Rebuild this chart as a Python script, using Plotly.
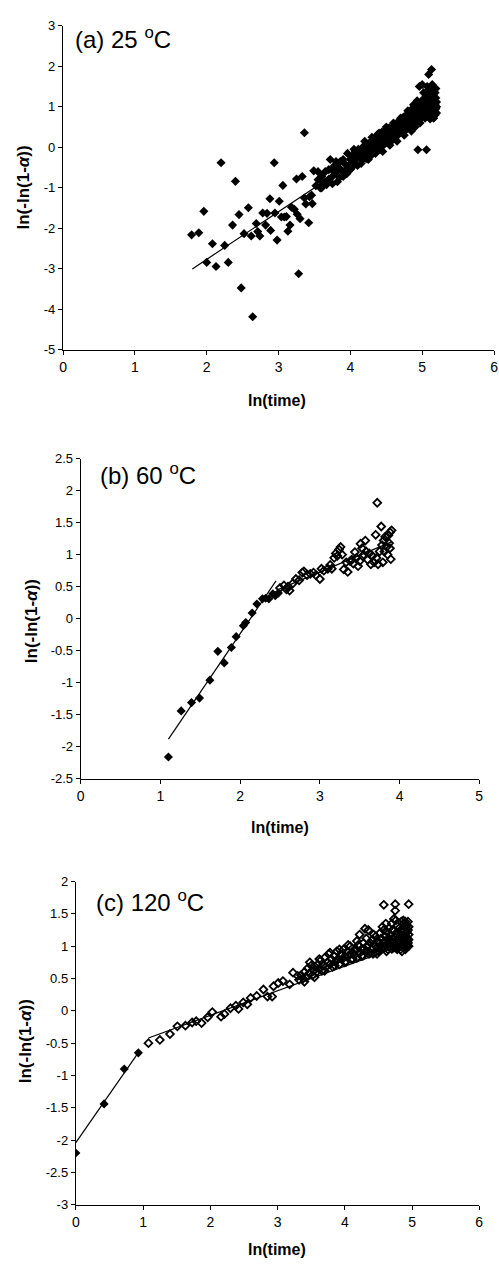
import plotly.graph_objects as go

W, H = 499, 1272

# ---------------- Panel (a) 25 °C ----------------
a_x = [1.79, 1.89, 1.96, 2.00, 2.08, 2.13, 2.20, 2.25, 2.30, 2.36, 2.40, 2.45, 2.48, 2.52, 2.58,
       2.62, 2.64, 2.69, 2.71, 2.74, 2.78, 2.82, 2.84, 2.88, 2.89, 2.94, 2.95, 2.98, 3.01, 3.04,
       3.06, 3.08, 3.11, 3.13, 3.16, 3.18, 3.22, 3.25, 3.26, 3.28, 3.30, 3.33, 3.36, 3.36, 3.38,
       3.42, 3.43, 3.47, 3.49, 3.46,
       3.52, 3.55, 3.58, 3.60, 3.62, 3.65, 3.67, 3.70, 3.72, 3.74,
       3.76, 3.78, 3.80, 3.82, 3.84, 3.86, 3.88, 3.90, 3.92, 3.94, 3.96, 3.98, 4.00,
       4.02, 4.03, 4.05, 4.07, 4.08, 4.10, 4.11, 4.13, 4.15, 4.16, 4.18, 4.19, 4.21, 4.22, 4.24,
       4.25, 4.27, 4.28, 4.29, 4.30,
       4.31, 4.32, 4.33, 4.34, 4.35, 4.36, 4.37, 4.38, 4.39, 4.40, 4.41, 4.42, 4.43, 4.44, 4.45,
       4.46, 4.47, 4.48, 4.49, 4.50, 4.51, 4.52, 4.53, 4.54, 4.55, 4.56, 4.57, 4.58, 4.59, 4.60,
       4.61, 4.62, 4.63, 4.64, 4.65, 4.66, 4.67, 4.68, 4.69, 4.70, 4.71, 4.72, 4.73, 4.74, 4.75,
       4.76, 4.77, 4.78, 4.79, 4.80, 4.81, 4.82, 4.83, 4.84, 4.85, 4.86, 4.87, 4.88, 4.89, 4.90,
       4.91, 4.92, 4.93, 4.94, 4.95, 4.96, 4.96, 4.97, 4.98, 4.99, 5.00, 5.00, 5.01, 5.02, 5.03,
       5.04, 5.05, 5.05, 5.06, 5.07, 5.08, 5.08, 5.09, 5.10, 5.10, 5.11, 5.12, 5.12, 5.13, 5.13,
       5.14, 5.15, 5.15, 5.16, 5.17, 5.17, 5.18, 5.18, 5.19, 5.19, 5.20, 5.20, 5.09, 5.13,
       4.94, 5.06,
       3.55, 3.60, 3.65, 3.70, 3.75, 3.80, 3.85, 3.90, 3.95, 4.00, 4.05, 4.10, 4.15, 4.20, 4.25,
       4.30, 4.35, 4.40, 4.45, 4.50, 4.55, 4.60, 4.65, 4.70, 4.75, 4.80, 4.85, 4.88, 4.90, 4.93,
       4.97, 5.02, 5.04, 5.07, 5.11, 5.14, 5.16, 5.18, 5.20, 5.19]
a_y = [-2.16, -2.11, -1.58, -2.84, -2.38, -2.94, -0.38, -2.42, -2.84, -1.92, -0.84, -1.66, -3.47, -2.13, -1.49,
       -2.19, -4.18, -1.88, -2.08, -2.19, -1.62, -1.92, -1.63, -1.27, -2.05, -0.38, -1.62, -2.29, -1.33, -1.72,
       -0.94, -1.72, -1.71, -2.07, -1.92, -1.48, -1.53, -0.78, -1.65, -3.12, -1.76, -0.72, 0.36, -1.25, -1.40,
       -1.86, -1.22, -1.39, -0.58, -1.18,
       -0.95, -0.80, -1.00, -0.72, -0.88, -0.60, -0.92, -0.78, -0.30, -0.55,
       -0.70, -0.45, -0.62, -0.85, -0.50, -0.35, -0.58, -0.72, -0.40, -0.55, -0.15, -0.45, -0.30,
       -0.50, -0.20, -0.38, -0.10, -0.28, -0.45, -0.05, -0.22, -0.12, -0.32, 0.02, -0.18, -0.08, -0.28, 0.05,
       -0.12, 0.12, -0.05, -0.20, 0.08,
       -0.02, 0.18, -0.10, 0.05, 0.25, 0.00, 0.12, 0.32, 0.05, 0.20, -0.05, 0.28, 0.10, 0.38, 0.15,
       0.05, 0.30, 0.20, 0.42, 0.12, 0.28, 0.35, 0.18, 0.48, 0.25, 0.38, 0.15, 0.45, 0.30, 0.52,
       0.35, 0.22, 0.48, 0.40, 0.60, 0.30, 0.52, 0.44, 0.68, 0.38, 0.55, 0.62, 0.45, 0.75, 0.50,
       0.65, 0.42, 0.80, 0.58, 0.70, 0.52, 0.88, 0.62, 0.75, 0.55, 0.95, 0.70, 0.82, 0.60, 1.00,
       0.75, 0.88, 0.65, 1.05, 0.80, 1.50, 0.95, 0.70, 1.10, 0.85, 1.55, 1.00, 0.78, 1.20, 0.92,
       1.08, 0.82, 1.30, 0.98, 1.15, 0.88, 1.40, 1.05, 0.80, 1.25, 0.95, 1.10, 1.38, 0.85, 1.20,
       1.02, 0.75, 1.30, 0.92, 1.12, 1.42, 0.80, 1.05, 0.95, 1.22, 1.00, 1.12, 1.80, 1.92,
       -0.06, -0.06,
       -0.60, -1.00, -0.85, -0.55, -0.90, -0.35, -0.75, -0.30, -0.65, -0.55, -0.05, -0.25, -0.40, 0.15, -0.30,
       0.25, -0.15, 0.35, -0.10, 0.50, 0.05, 0.60, 0.15, 0.72, 0.30, 0.90, 0.40, 1.05, 0.50, 1.15,
       0.60, 1.35, 0.72, 1.50, 0.70, 1.55, 0.72, 1.35, 0.85, 1.45]
a_fit_x = [1.80, 5.20]
a_fit_y = [-3.00, 1.00]

# ---------------- Panel (b) 60 °C ----------------
b_fill_x = [1.10, 1.26, 1.39, 1.49, 1.62, 1.72, 1.80, 1.89, 1.95, 2.04, 2.07, 2.15, 2.21, 2.28,
            2.32, 2.36, 2.41, 2.44, 2.48]
b_fill_y = [-2.16, -1.44, -1.31, -1.24, -0.96, -0.51, -0.69, -0.45, -0.28, -0.11, -0.06, 0.09, 0.23, 0.31,
            0.32, 0.31, 0.39, 0.36, 0.40]
b_open_x = [2.50, 2.55, 2.58, 2.60, 2.62, 2.66, 2.70, 2.74, 2.78, 2.80, 2.84, 2.88, 2.92, 2.95, 3.00,
            3.02, 3.05, 3.10, 3.13, 3.15, 3.18, 3.20, 3.22, 3.24, 3.26, 3.28, 3.30, 3.33, 3.35, 3.38,
            3.40, 3.42, 3.44, 3.46, 3.48, 3.50, 3.51, 3.53, 3.55, 3.57, 3.58, 3.60, 3.62, 3.64, 3.66,
            3.68, 3.70, 3.71, 3.72, 3.73, 3.75, 3.77, 3.78, 3.79, 3.80, 3.81, 3.82, 3.84, 3.85, 3.86,
            3.87, 3.88, 3.89, 3.90, 3.88]
b_open_y = [0.48, 0.52, 0.46, 0.50, 0.44, 0.55, 0.62, 0.60, 0.72, 0.74, 0.68, 0.70, 0.72, 0.68, 0.62,
            0.78, 0.75, 0.78, 0.84, 0.78, 0.95, 1.02, 0.98, 1.08, 1.12, 1.00, 0.77, 0.88, 0.73, 0.90,
            0.92, 0.86, 1.04, 0.95, 0.82, 0.90, 1.17, 1.10, 1.00, 1.22, 1.05, 0.92, 1.02, 0.85, 0.98,
            0.88, 1.31, 0.95, 1.81, 0.85, 1.05, 1.44, 1.15, 0.88, 1.22, 1.05, 1.28, 1.12, 1.00, 1.30,
            1.18, 1.35, 0.93, 1.38, 1.10]
b_fit1_x = [1.10, 2.45]
b_fit1_y = [-1.88, 0.59]
b_fit2_x = [2.47, 3.90]
b_fit2_y = [0.45, 1.20]

# ---------------- Panel (c) 120 °C ----------------
c_fill_x = [0.00, 0.42, 0.72, 0.93]
c_fill_y = [-2.20, -1.44, -0.90, -0.65]
c_open_x = [1.08, 1.25, 1.40, 1.51, 1.63, 1.73, 1.79, 1.87, 1.96, 2.03, 2.16, 2.21, 2.30, 2.38, 2.42,
            2.49, 2.55, 2.60, 2.69, 2.79, 2.85, 2.92, 2.94, 3.01, 3.08, 3.18, 3.23, 3.30,
            3.32, 3.35, 3.38, 3.40, 3.43, 3.45, 3.47, 3.50, 3.52, 3.54, 3.56, 3.58, 3.60,
            3.62, 3.64, 3.66, 3.68, 3.70, 3.72, 3.74, 3.76, 3.78, 3.80, 3.82, 3.84, 3.86, 3.88, 3.90,
            3.92, 3.94, 3.96, 3.98, 4.00,
            4.02, 4.04, 4.06, 4.08, 4.10, 4.12, 4.14, 4.16, 4.18, 4.20, 4.22, 4.23, 4.25, 4.27, 4.28,
            4.30, 4.31, 4.33, 4.35, 4.36, 4.38, 4.40,
            4.41, 4.42, 4.44, 4.45, 4.46, 4.48, 4.49, 4.50, 4.52, 4.53, 4.54, 4.55, 4.56, 4.57, 4.58,
            4.59, 4.60, 4.61, 4.62, 4.63, 4.64, 4.65, 4.66, 4.67, 4.68, 4.69, 4.70,
            4.71, 4.72, 4.73, 4.74, 4.75, 4.75, 4.76, 4.77, 4.78, 4.78, 4.79, 4.80, 4.81, 4.82, 4.83,
            4.84, 4.85, 4.85, 4.86, 4.87, 4.87, 4.88, 4.89, 4.90, 4.90, 4.91, 4.92, 4.92, 4.93, 4.94,
            4.94, 4.95, 4.95, 4.95, 4.95,
            3.40, 3.48, 3.55, 3.62, 3.70, 3.78, 3.85, 3.92, 4.00, 4.05, 4.12, 4.18, 4.25, 4.32, 4.38,
            4.43, 4.48, 4.52, 4.58, 4.62, 4.66, 4.70, 4.73, 4.76, 4.80, 4.83, 4.86, 4.88, 4.90, 4.92,
            4.94, 4.95, 4.93, 4.91, 4.89, 4.84, 4.80, 4.74, 4.68, 4.60, 4.55, 4.46, 4.35, 4.28, 4.15,
            4.08, 3.95, 3.88]
c_open_y = [-0.50, -0.45, -0.36, -0.24, -0.23, -0.18, -0.16, -0.19, -0.10, -0.02, -0.09, -0.05, 0.04, 0.08, 0.03,
            0.13, 0.10, 0.20, 0.23, 0.33, 0.22, 0.22, 0.38, 0.43, 0.46, 0.41, 0.59, 0.54,
            0.48, 0.55, 0.50, 0.60, 0.52, 0.66, 0.58, 0.70, 0.55, 0.62, 0.68, 0.60, 0.72,
            0.65, 0.78, 0.62, 0.70, 0.82, 0.68, 0.75, 0.88, 0.72, 0.80, 0.68, 0.85, 0.76, 0.92, 0.80,
            0.72, 0.88, 0.80, 0.95, 0.84,
            0.76, 0.92, 0.85, 1.00, 0.80, 0.90, 0.86, 0.96, 0.82, 1.02, 1.18, 0.90, 0.95, 0.85, 1.05,
            1.27, 0.92, 1.00, 1.25, 0.88, 1.05, 0.95,
            1.10, 0.88, 1.02, 0.90, 1.15, 0.98, 1.08, 0.92, 1.20, 1.00, 1.12, 0.95, 1.30, 1.05, 1.64,
            0.98, 1.15, 1.35, 1.02, 1.22, 0.95, 1.10, 1.28, 1.00, 1.18, 1.05, 0.96,
            1.25, 1.10, 1.42, 1.02, 1.65, 1.55, 1.20, 0.98, 1.32, 0.95, 1.12, 1.05, 1.28, 1.00, 1.18,
            1.38, 0.92, 1.10, 1.25, 1.40, 1.02, 1.15, 1.30, 1.08, 1.38, 1.20, 1.00, 1.32, 1.12, 1.25,
            1.05, 1.65, 1.18, 1.30, 1.10,
            0.45, 0.75, 0.52, 0.80, 0.62, 0.90, 0.70, 0.95, 0.75, 1.02, 0.80, 1.08, 0.85, 1.12, 0.90,
            1.18, 0.88, 1.05, 1.25, 0.92, 1.12, 1.35, 0.98, 1.40, 1.20, 0.95, 1.15, 1.35, 0.95, 1.22,
            1.38, 1.00, 1.08, 1.15, 1.05, 1.22, 1.10, 1.15, 1.08, 1.08, 1.02, 1.00, 1.02, 0.95, 0.92,
            0.88, 0.85, 0.78]
c_fit1_x = [0.00, 0.94]
c_fit1_y = [-2.04, -0.63]
c_fit2_x = [1.08, 5.00]
c_fit2_y = [-0.42, 1.07]

# tick labels
a_xticks = [0, 1, 2, 3, 4, 5, 6]
a_yticks = [-5, -4, -3, -2, -1, 0, 1, 2, 3]
b_xticks = [0, 1, 2, 3, 4, 5]
b_yticks = [-2.5, -2, -1.5, -1, -0.5, 0, 0.5, 1, 1.5, 2, 2.5]
c_xticks = [0, 1, 2, 3, 4, 5, 6]
c_yticks = [-3, -2.5, -2, -1.5, -1, -0.5, 0, 0.5, 1, 1.5, 2]


def lab(v):
    return "%g" % v


def px(x):
    return x / W


def py(y):
    return 1 - y / H


FONT = "Arial, Liberation Sans, sans-serif"
fig = go.Figure()

filled = dict(symbol="diamond", size=7, color="black", line=dict(width=0))
opened = dict(symbol="diamond-open", size=6, color="black", line=dict(width=1.8, color="black"))
lin = dict(color="black", width=1.2)

# panel a
fig.add_trace(go.Scatter(x=a_x, y=a_y, mode="markers", marker=filled, xaxis="x", yaxis="y"))
fig.add_trace(go.Scatter(x=a_fit_x, y=a_fit_y, mode="lines", line=lin, xaxis="x", yaxis="y"))
# panel b
fig.add_trace(go.Scatter(x=b_fit1_x, y=b_fit1_y, mode="lines", line=lin, xaxis="x2", yaxis="y2"))
fig.add_trace(go.Scatter(x=b_fit2_x, y=b_fit2_y, mode="lines", line=lin, xaxis="x2", yaxis="y2"))
fig.add_trace(go.Scatter(x=b_fill_x, y=b_fill_y, mode="markers", marker=filled, xaxis="x2", yaxis="y2"))
fig.add_trace(go.Scatter(x=b_open_x, y=b_open_y, mode="markers", marker=opened, xaxis="x2", yaxis="y2"))
# panel c
fig.add_trace(go.Scatter(x=c_fit1_x, y=c_fit1_y, mode="lines", line=lin, xaxis="x3", yaxis="y3"))
fig.add_trace(go.Scatter(x=c_fit2_x, y=c_fit2_y, mode="lines", line=lin, xaxis="x3", yaxis="y3"))
fig.add_trace(go.Scatter(x=c_fill_x, y=c_fill_y, mode="markers", marker=filled, xaxis="x3", yaxis="y3"))
fig.add_trace(go.Scatter(x=c_open_x, y=c_open_y, mode="markers", marker=opened, xaxis="x3", yaxis="y3"))


def xax(dom, rng, ticks, anchor):
    return dict(domain=dom, range=rng, tickvals=ticks, ticktext=[lab(t) for t in ticks],
                showline=True, linecolor="black", linewidth=1.2, ticks="outside", ticklen=4,
                tickcolor="black", showgrid=False, zeroline=False, anchor=anchor,
                tickfont=dict(family=FONT, size=14, color="black"))


def yax(dom, rng, ticks, anchor):
    return dict(domain=dom, range=rng, tickvals=ticks, ticktext=[lab(t) for t in ticks],
                showline=True, linecolor="black", linewidth=1.2, ticks="outside", ticklen=4,
                tickcolor="black", showgrid=False, zeroline=False, anchor=anchor,
                tickfont=dict(family=FONT, size=13, color="black"))


fig.update_layout(
    width=W, height=H, margin=dict(l=0, r=0, t=0, b=0),
    paper_bgcolor="white", plot_bgcolor="white", showlegend=False,
    xaxis=xax([px(60), px(498)], [0, 6], a_xticks, "y"),
    yaxis=yax([py(347), py(19)], [-5, 3], a_yticks, "x"),
    xaxis2=xax([px(78), px(483)], [0, 5], b_xticks, "y2"),
    yaxis2=yax([py(781), py(457)], [-2.5, 2.5], b_yticks, "x2"),
    xaxis3=xax([px(73), px(483)], [0, 6], c_xticks, "y3"),
    yaxis3=yax([py(1212), py(885)], [-3, 2], c_yticks, "x3"),
)

ann = []
titles = [("(a) 25 <sup>o</sup>C", 70, 31), ("(b) 60 <sup>o</sup>C", 96, 473), ("(c) 120 <sup>o</sup>C", 91, 905)]
for t, x, y in titles:
    ann.append(dict(text=t, x=px(x), y=py(y), xref="paper", yref="paper", xanchor="left",
                    yanchor="middle", showarrow=False, font=dict(family=FONT, size=24, color="black")))
for x, y in [(277, 398), (280, 830), (277, 1257)]:
    ann.append(dict(text="<b>ln(time)</b>", x=px(x), y=py(y), xref="paper", yref="paper",
                    xanchor="center", yanchor="middle", showarrow=False,
                    font=dict(family=FONT, size=16, color="black")))
for x, y in [(20, 183), (28, 622), (22, 1047)]:
    ann.append(dict(text="<b>ln(-ln(1-<i>α</i>))</b>", x=px(x), y=py(y), xref="paper", yref="paper",
                    xanchor="center", yanchor="middle", showarrow=False, textangle=-90,
                    font=dict(family=FONT, size=17, color="black")))
fig.update_layout(annotations=ann)

fig.write_html("out.html")
